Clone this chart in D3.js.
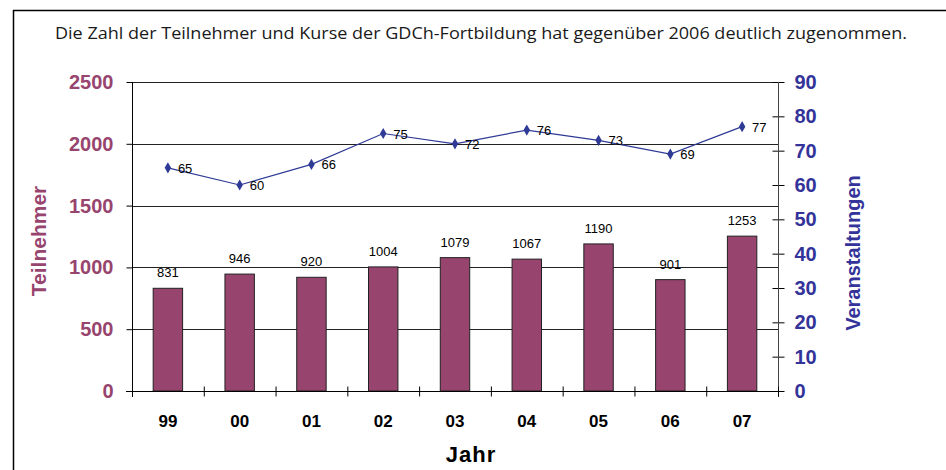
<!DOCTYPE html>
<html>
<head>
<meta charset="utf-8">
<script src="https://cdn.jsdelivr.net/npm/d3@7"></script>
<style>
  body { margin: 0; background: #fff; }
  svg { display: block; }
</style>
</head>
<body>
<svg></svg>
<script>
var width = 946, height = 470;

// data
var jahre = ["99", "00", "01", "02", "03", "04", "05", "06", "07"];
var teilnehmer = [831, 946, 920, 1004, 1079, 1067, 1190, 901, 1253];
var veranstaltungen = [65, 60, 66, 75, 72, 76, 73, 69, 77];
var leftTicks = [0, 500, 1000, 1500, 2000, 2500];
var rightTicks = [0, 10, 20, 30, 40, 50, 60, 70, 80, 90];

var mauve = "#97446E", blue = "#333399", lineBlue = "#2E3A96";

var svg = d3.select("svg").attr("width", width).attr("height", height);

// frame
svg.append("line").attr("x1", 13).attr("x2", width).attr("y1", 10.5).attr("y2", 10.5)
  .attr("stroke", "#000").attr("stroke-width", 1.5);
svg.append("line").attr("x1", 13.5).attr("x2", 13.5).attr("y1", 10).attr("y2", height)
  .attr("stroke", "#000").attr("stroke-width", 1.5);

// title
svg.append("text")
  .attr("x", 481).attr("y", 39)
  .attr("text-anchor", "middle")
  .attr("textLength", 852).attr("lengthAdjust", "spacingAndGlyphs")
  .style("font-family", "'Open Sans', sans-serif")
  .style("font-size", "16.5px")
  .style("fill", "#1a1a1a")
  .text("Die Zahl der Teilnehmer und Kurse der GDCh-Fortbildung hat gegenüber 2006 deutlich zugenommen.");

var x0 = 132, x1 = 778, yTop = 82, yBot = 391;

var x = d3.scaleBand().domain(jahre).range([x0, x1]).padding(0);
var yL = d3.scaleLinear().domain([0, 2500]).range([yBot, yTop]);
var yR = d3.scaleLinear().domain([0, 90]).range([yBot, yTop]);

var g = svg.append("g");

// gridlines
g.selectAll(".grid").data(leftTicks.filter(function(d){ return d > 0; }))
  .enter().append("line")
  .attr("x1", x0).attr("x2", x1)
  .attr("y1", function(d){ return Math.round(yL(d)) + 0.5; })
  .attr("y2", function(d){ return Math.round(yL(d)) + 0.5; })
  .attr("stroke", "#222").attr("stroke-width", 1);

// bars
var bw = x.bandwidth() * 0.41;
g.selectAll(".bar").data(teilnehmer).enter().append("rect")
  .attr("x", function(d, i){ return x(jahre[i]) + x.bandwidth() / 2 - bw / 2; })
  .attr("y", function(d){ return yL(d); })
  .attr("width", bw)
  .attr("height", function(d){ return yBot - yL(d); })
  .attr("fill", mauve)
  .attr("stroke", "#222").attr("stroke-width", 1);

g.selectAll(".barlabel").data(teilnehmer).enter().append("text")
  .attr("x", function(d, i){ return x(jahre[i]) + x.bandwidth() / 2; })
  .attr("y", function(d){ return yL(d) - 11; })
  .attr("text-anchor", "middle")
  .style("font-family", "Arial, 'Liberation Sans', sans-serif")
  .style("font-size", "13px")
  .text(function(d){ return d; });

// left axis
var axL = svg.append("g").attr("transform", "translate(" + (x0 + 0.5) + ",0)")
  .call(d3.axisLeft(yL).tickValues(leftTicks).tickFormat(d3.format("d"))
    .tickSize(6).tickPadding(13).tickSizeOuter(0));
axL.select(".domain").remove();
axL.append("line").attr("y1", yTop).attr("y2", yBot + 6).attr("stroke", "#000");
axL.selectAll("text")
  .style("font-family", "Arial, 'Liberation Sans', sans-serif")
  .style("font-size", "20px").style("font-weight", "bold")
  .attr("fill", mauve);

// right axis
var axR = svg.append("g").attr("transform", "translate(" + (x1 + 0.5) + ",0)")
  .call(d3.axisRight(yR).tickValues(rightTicks).tickFormat(d3.format("d"))
    .tickSize(6).tickPadding(10).tickSizeOuter(0));
axR.select(".domain").remove();
axR.selectAll(".tick line").attr("x1", -6);
axR.append("line").attr("y1", yTop).attr("y2", yBot + 6).attr("stroke", "#444");
axR.selectAll("text")
  .style("font-family", "Arial, 'Liberation Sans', sans-serif")
  .style("font-size", "20px").style("font-weight", "bold")
  .attr("fill", blue);

// x axis
var axX = svg.append("g").attr("transform", "translate(0," + (yBot + 0.5) + ")");
axX.append("line").attr("x1", x0 - 6).attr("x2", x1 + 6).attr("stroke", "#000");
axX.selectAll(".xt").data(jahre.concat(["end"])).enter().append("line")
  .attr("x1", function(d, i){ return x0 + i * x.step() + 0.5; })
  .attr("x2", function(d, i){ return x0 + i * x.step() + 0.5; })
  .attr("y1", -5).attr("y2", 5)
  .attr("stroke", "#000");
axX.selectAll(".xl").data(jahre).enter().append("text")
  .attr("x", function(d){ return x(d) + x.bandwidth() / 2; })
  .attr("y", 35)
  .attr("text-anchor", "middle")
  .style("font-family", "Arial, 'Liberation Sans', sans-serif")
  .style("font-size", "17px").style("font-weight", "bold")
  .text(function(d){ return d; });

// line series
var line = d3.line()
  .x(function(d, i){ return x(jahre[i]) + x.bandwidth() / 2; })
  .y(function(d){ return yR(d); });
svg.append("path").datum(veranstaltungen)
  .attr("d", line).attr("fill", "none")
  .attr("stroke", lineBlue).attr("stroke-width", 1.2);
svg.selectAll(".pt").data(veranstaltungen).enter().append("path")
  .attr("d", d3.symbol().type(d3.symbolDiamond).size(36))
  .attr("transform", function(d, i){ return "translate(" + (x(jahre[i]) + x.bandwidth() / 2) + "," + yR(d) + ")"; })
  .attr("fill", lineBlue);
svg.selectAll(".ptlabel").data(veranstaltungen).enter().append("text")
  .attr("x", function(d, i){ return x(jahre[i]) + x.bandwidth() / 2 + 10; })
  .attr("y", function(d){ return yR(d) + 5; })
  .style("font-family", "Arial, 'Liberation Sans', sans-serif")
  .style("font-size", "13px")
  .text(function(d){ return d; });

// axis titles
svg.append("text")
  .attr("transform", "translate(46,241) rotate(-90)")
  .attr("text-anchor", "middle")
  .style("font-family", "Arial, 'Liberation Sans', sans-serif")
  .style("font-size", "21px").style("font-weight", "bold")
  .attr("fill", mauve)
  .text("Teilnehmer");
svg.append("text")
  .attr("transform", "translate(860,253) rotate(-90)")
  .attr("text-anchor", "middle")
  .style("font-family", "Arial, 'Liberation Sans', sans-serif")
  .style("font-size", "20px").style("font-weight", "bold")
  .attr("fill", blue)
  .text("Veranstaltungen");
svg.append("text")
  .attr("x", 471).attr("y", 462)
  .attr("text-anchor", "middle")
  .style("font-family", "Arial, 'Liberation Sans', sans-serif")
  .style("font-size", "22px").style("font-weight", "bold")
  .style("letter-spacing", "1px")
  .text("Jahr");
</script>
</body>
</html>
